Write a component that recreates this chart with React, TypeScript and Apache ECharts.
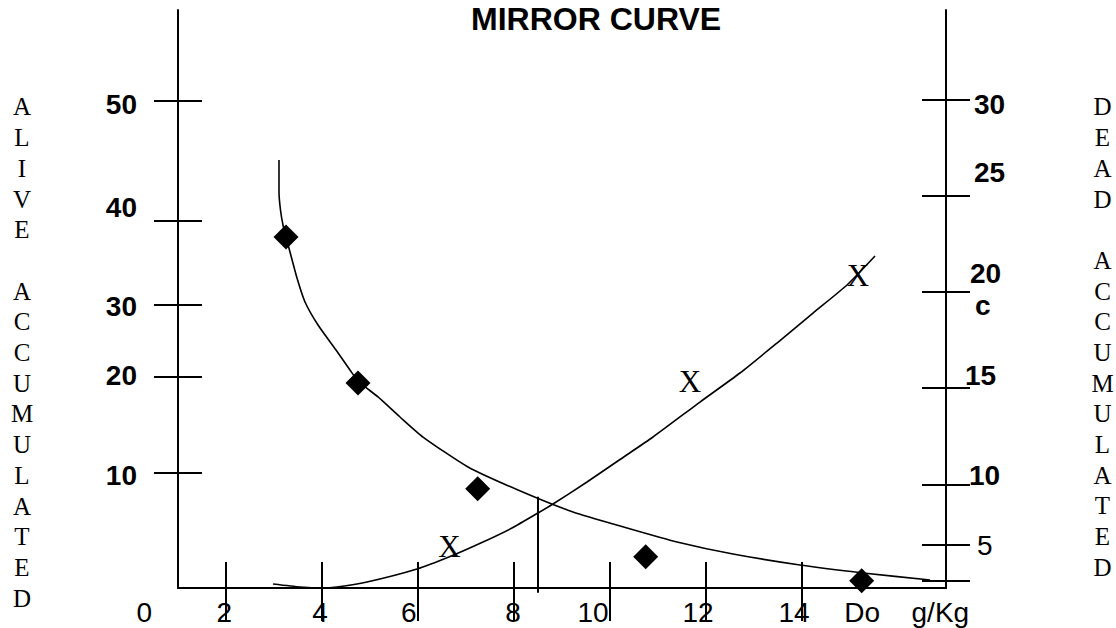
import React, { useEffect, useRef } from "react";
import * as echarts from "echarts";

// ---------- data ----------
const xTickValues = [2, 4, 6, 8, 10, 12, 14];
const xLabelTexts = ["0", "2", "4", "6", "8", "10", "12", "14", "Do", "g/Kg"];
const xLabelPositions = [0.296, 1.963, 3.958, 5.807, 7.979, 9.646, 11.833, 13.833, 15.254, 16.882];

// left axis (alive accumulated) – schematic scale, 0..60
const leftTickPositions = [11.969, 21.934, 29.45, 38.128, 50.585];
const leftLabelTexts = ["10", "20", "30", "40", "50"];
const leftLabelPositions = [11.73, 22.03, 29.17, 39.5, 50.17];

// right axis (dead accumulated)
const rightTickValues = [5, 6.84, 10, 15, 20, 25, 30];
const rightLabelTexts = ["30", "25", "20", "c", "15", "10", "5"];
const rightLabelPositions = [29.755, 26.201, 20.996, 19.315, 15.646, 10.442, 6.789];

// alive accumulated: observed points (diamonds) and fitted curve
const aliveDose = [3.25, 4.75, 7.244, 10.744, 15.244];
const aliveCount = [36.44, 21.28, 10.31, 3.25, 0.76];
const aliveCurveDose = [3.104, 3.104, 3.135, 3.1875, 3.25, 3.333, 3.479, 3.646, 3.917, 4.292, 4.583, 4.75, 5.167, 5.625, 6.104, 7.042, 8.083, 9.229, 10.354, 11.396, 12.5625, 13.958, 15.271, 16.667];
const aliveCurveCount = [44.43, 41.11, 39.24, 37.68, 36.44, 34.88, 32.18, 29.69, 27.3, 24.71, 22.63, 21.49, 19.83, 17.75, 15.67, 12.56, 10.17, 7.89, 6.23, 4.78, 3.53, 2.39, 1.56, 0.83];

// dead accumulated: observed points (X) and fitted curve
const deadDose = [6.656, 11.667, 15.167];
const deadCount = [6.763, 15.324, 20.892];
const deadCurveDose = [2.979, 3.542, 4.0, 4.3125, 4.9375, 5.979, 6.667, 7.354, 7.958, 8.5, 8.8125, 9.521, 10.208, 10.896, 11.875, 12.708, 13.479, 14.229, 14.9375, 15.521];
const deadCurveCount = [4.811, 4.655, 4.603, 4.655, 4.915, 5.592, 6.242, 6.997, 7.726, 8.506, 8.975, 10.12, 11.291, 12.461, 14.282, 15.792, 17.353, 18.914, 20.372, 21.881];

// vertical marker (LD50)
const markerDose = [8.5, 8.5];
const markerSpan = [9.48, -0.49];

const leftSideText = "ALIVE ACCUMULATED".split("").map((c) => (c === " " ? "" : c)).join("\n");
const rightSideText = "DEAD ACCUMULATED".split("").map((c) => (c === " " ? "" : c)).join("\n");

// ---------- styles ----------
const SANS = '"Liberation Sans", Arial, Helvetica, sans-serif';
const SERIF = '"Liberation Serif", "Times New Roman", serif';
const INK = "#000";
const rightLabelStyle = [
  { shift: 9, bold: true },
  { shift: 9, bold: true },
  { shift: 5, bold: true },
  { shift: 10, bold: true },
  { shift: 0, bold: true },
  { shift: 4, bold: true },
  { shift: 12, bold: false },
];

const nearest = (positions: number[], v: number) => {
  let best = 0;
  let d = Infinity;
  positions.forEach((p, i) => {
    const dd = Math.abs(p - v);
    if (dd < d) {
      d = dd;
      best = i;
    }
  });
  return best;
};

const pairs = (xs: number[], ys: number[]) => xs.map((x, i) => [x, ys[i]]);

export default function App() {
  const ref = useRef<HTMLDivElement>(null);

  useEffect(() => {
    if (!ref.current) return;
    const chart = echarts.init(ref.current, null, { renderer: "svg" });

    const tickLine = { color: INK, width: 2 };
    const rich: Record<string, any> = {};
    rightLabelStyle.forEach((s, i) => {
      rich["r" + i] = {
        fontFamily: SANS,
        fontSize: 28,
        fontWeight: s.bold ? "bold" : "normal",
        color: INK,
        padding: [0, 0, 0, s.shift],
      };
    });

    const option: any = {
      animation: false,
      backgroundColor: "#fff",
      title: {
        text: "MIRROR CURVE",
        left: 471,
        top: 3,
        padding: 0,
        textStyle: { fontFamily: SANS, fontWeight: "bold", fontSize: 32, lineHeight: 32, color: INK },
      },
      grid: [
        { left: 178, right: 170, top: 10, bottom: 40 },
        { left: 130, right: 170, top: 10, bottom: 40 },
      ],
      xAxis: [
        {
          type: "value", gridIndex: 0, position: "bottom", min: 1, max: 17,
          axisLine: { show: true, onZero: false, lineStyle: tickLine },
          axisTick: { show: true, inside: true, length: 26, customValues: xTickValues, lineStyle: tickLine },
          axisLabel: { show: false },
          splitLine: { show: false },
        },
        {
          type: "value", gridIndex: 0, position: "bottom", min: 1, max: 17,
          axisLine: { show: false, onZero: false },
          axisTick: { show: true, inside: false, length: 33, customValues: xTickValues, lineStyle: tickLine },
          axisLabel: { show: false },
          splitLine: { show: false },
        },
        {
          type: "value", gridIndex: 1, position: "bottom", min: 0, max: 17,
          axisLine: { show: false, onZero: false },
          axisTick: { show: false },
          splitLine: { show: false },
          axisLabel: {
            show: true,
            customValues: xLabelPositions,
            formatter: (v: number) => xLabelTexts[nearest(xLabelPositions, v)],
            margin: 10,
            color: INK,
            fontFamily: SANS,
            fontSize: 28,
            lineHeight: 28,
          },
        },
      ],
      yAxis: [
        {
          type: "value", gridIndex: 0, position: "left", min: 0, max: 60,
          axisLine: { show: true, onZero: false, lineStyle: tickLine },
          axisTick: { show: true, inside: true, length: 24, customValues: leftTickPositions, lineStyle: tickLine },
          splitLine: { show: false },
          axisLabel: {
            show: true,
            customValues: leftLabelPositions,
            formatter: (v: number) => leftLabelTexts[nearest(leftLabelPositions, v)],
            margin: 41,
            color: INK,
            fontFamily: SANS,
            fontSize: 28,
            fontWeight: "bold",
            lineHeight: 28,
          },
        },
        {
          type: "value", gridIndex: 0, position: "left", min: 0, max: 60,
          axisLine: { show: false, onZero: false },
          axisTick: { show: true, inside: false, length: 24, customValues: leftTickPositions, lineStyle: tickLine },
          splitLine: { show: false },
          axisLabel: { show: false },
        },
        {
          type: "value", gridIndex: 0, position: "right", min: 4.603, max: 34.684,
          axisLine: { show: true, onZero: false, lineStyle: tickLine },
          axisTick: { show: true, inside: true, length: 24, customValues: rightTickValues, lineStyle: tickLine },
          splitLine: { show: false },
          axisLabel: {
            show: true,
            customValues: rightLabelPositions,
            formatter: (v: number) => {
              const i = nearest(rightLabelPositions, v);
              return "{r" + i + "|" + rightLabelTexts[i] + "}";
            },
            rich,
            margin: 19,
            align: "left",
            color: INK,
            fontFamily: SANS,
            fontSize: 28,
            fontWeight: "bold",
            lineHeight: 28,
          },
        },
        {
          type: "value", gridIndex: 0, position: "right", min: 4.603, max: 34.684,
          axisLine: { show: false, onZero: false },
          axisTick: { show: true, inside: false, length: 24, customValues: rightTickValues, lineStyle: tickLine },
          splitLine: { show: false },
          axisLabel: { show: false },
        },
        { type: "value", gridIndex: 1, min: 0, max: 60, show: false },
      ],
      series: [
        {
          name: "Alive accumulated (curve)",
          type: "line", xAxisIndex: 0, yAxisIndex: 0,
          data: pairs(aliveCurveDose, aliveCurveCount),
          showSymbol: false, symbol: "none", smooth: 0.2,
          lineStyle: { color: INK, width: 1.6 },
          silent: true,
        },
        {
          name: "Dead accumulated (curve)",
          type: "line", xAxisIndex: 0, yAxisIndex: 2,
          data: pairs(deadCurveDose, deadCurveCount),
          showSymbol: false, symbol: "none", smooth: 0.2,
          lineStyle: { color: INK, width: 1.6 },
          silent: true,
        },
        {
          name: "Marker",
          type: "line", xAxisIndex: 0, yAxisIndex: 0,
          data: pairs(markerDose, markerSpan),
          showSymbol: false, symbol: "none", clip: false,
          lineStyle: { color: INK, width: 2 },
          silent: true,
        },
        {
          name: "Alive accumulated",
          type: "scatter", xAxisIndex: 0, yAxisIndex: 0,
          data: pairs(aliveDose, aliveCount),
          symbol: "diamond", symbolSize: 25,
          itemStyle: { color: INK, opacity: 1 },
          z: 4,
        },
        {
          name: "Dead accumulated",
          type: "scatter", xAxisIndex: 0, yAxisIndex: 2,
          data: pairs(deadDose, deadCount),
          symbol: "circle", symbolSize: 2,
          itemStyle: { color: "rgba(0,0,0,0)", opacity: 1 },
          label: {
            show: true, position: "inside", formatter: "X",
            fontFamily: SERIF, fontSize: 31, color: INK, opacity: 1,
            textBorderWidth: 0,
          },
          z: 5,
        },
      ],
      graphic: [
        {
          type: "text", x: 22, y: 91.65, silent: true,
          style: {
            text: leftSideText, fill: INK, fontFamily: SERIF, fontSize: 25,
            font: '25px "Liberation Serif", "Times New Roman", serif',
            textAlign: "center", textVerticalAlign: "top", align: "center", verticalAlign: "top",
            lineHeight: 30.7,
          },
        },
        {
          type: "text", x: 1102.5, y: 91.67, silent: true,
          style: {
            text: rightSideText, fill: INK, fontFamily: SERIF, fontSize: 25,
            font: '25px "Liberation Serif", "Times New Roman", serif',
            textAlign: "center", textVerticalAlign: "top", align: "center", verticalAlign: "top",
            lineHeight: 30.67,
          },
        },
      ],
    };

    chart.setOption(option);
    return () => chart.dispose();
  }, []);

  return (
    <div
      ref={ref}
      style={{ position: "fixed", left: 0, top: 0, width: 1116, height: 628, background: "#fff" }}
    />
  );
}
